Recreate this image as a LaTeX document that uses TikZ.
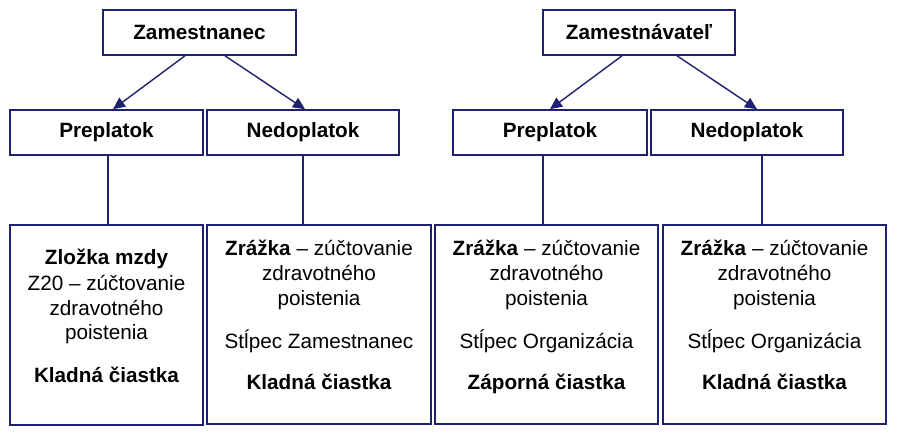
\documentclass[tikz,border=0pt]{standalone}
\usepackage{fontspec}
\setmainfont{Liberation Sans}
\usetikzlibrary{arrows.meta}
\definecolor{navy}{RGB}{30,34,110}
\begin{document}
\begin{tikzpicture}[x=1pt,y=-1pt,
  box/.style={draw=navy,line width=1.6pt,rectangle,inner sep=0pt},
  head/.style={box,minimum height=45pt,text height=15pt,text depth=4.5pt,font=\fontsize{20.7}{25}\selectfont\bfseries},
  tophead/.style={head,text depth=1.5pt},
  body/.style={box,minimum height=199pt},
  txt/.style={anchor=base,inner sep=0pt,font=\fontsize{20.7}{25}\selectfont},
  conn/.style={draw=navy,line width=1.4pt},
  arr/.style={conn,-{Triangle[length=12pt,width=11pt]}}]
\useasboundingbox (0,0) rectangle (897,436);

% top row
\node[tophead,minimum width=193pt] (zl) at (199.5,32.5) {Zamestnanec};
\node[tophead,minimum width=192pt] (zr) at (639,32.5) {Zamestnávateľ};
% second row
\node[head,minimum width=193pt] (pl) at (106.5,132.5) {Preplatok};
\node[head,minimum width=192pt] (nl) at (303,132.5) {Nedoplatok};
\node[head,minimum width=194pt] (pr) at (550,132.5) {Preplatok};
\node[head,minimum width=192pt] (nr) at (747,132.5) {Nedoplatok};
% bottom row
\node[body,minimum width=193pt,minimum height=200pt] (b1) at (106.5,325) {};
\node[body,minimum width=224pt] (b2) at (319,324.5) {};
\node[body,minimum width=223pt] (b3) at (546.5,324.5) {};
\node[body,minimum width=223pt] (b4) at (774.5,324.5) {};

% arrows
\draw[arr] ([xshift=-14.5pt]zl.south) -- ([xshift=6.5pt]pl.north);
\draw[arr] ([xshift=25.5pt]zl.south) -- ([xshift=2pt]nl.north);
\draw[arr] ([xshift=-17pt]zr.south) -- (pr.north);
\draw[arr] ([xshift=38pt]zr.south) -- ([xshift=10pt]nr.north);

% vertical connectors
\draw[conn] ([xshift=1.5pt]pl.south) -- ([xshift=1.5pt]pl.south |- b1.north);
\draw[conn] (nl.south) -- (nl.south |- b2.north);
\draw[conn] ([xshift=-7pt]pr.south) -- ([xshift=-7pt]pr.south |- b3.north);
\draw[conn] ([xshift=15pt]nr.south) -- ([xshift=15pt]nr.south |- b4.north);

% box 1 text
\node[txt] (t1a) at (106.5,264) {\bfseries Zložka mzdy};
\node[txt] (t1b) at (106.5,290) {Z20 – zúčtovanie};
\node[txt] (t1c) at (106.5,315) {zdravotného};
\node[txt] (t1d) at (106.5,339) {poistenia};
\node[txt] (t1e) at (106.5,382) {\bfseries Kladná čiastka};
% box 2 text
\node[txt] (t2a) at (319,255) {\textbf{Zrážka} – zúčtovanie};
\node[txt] (t2b) at (319,280) {zdravotného};
\node[txt] (t2c) at (319,305) {poistenia};
\node[txt] (t2d) at (319,348) {Stĺpec Zamestnanec};
\node[txt] (t2e) at (319,389) {\bfseries Kladná čiastka};
% box 3 text
\node[txt] (t3a) at (546.5,255) {\textbf{Zrážka} – zúčtovanie};
\node[txt] (t3b) at (546.5,280) {zdravotného};
\node[txt] (t3c) at (546.5,305) {poistenia};
\node[txt] (t3d) at (546.5,348) {Stĺpec Organizácia};
\node[txt] (t3e) at (546.5,389) {\bfseries Záporná čiastka};
% box 4 text
\node[txt] (t4a) at (774.5,255) {\textbf{Zrážka} – zúčtovanie};
\node[txt] (t4b) at (774.5,280) {zdravotného};
\node[txt] (t4c) at (774.5,305) {poistenia};
\node[txt] (t4d) at (774.5,348) {Stĺpec Organizácia};
\node[txt] (t4e) at (774.5,389) {\bfseries Kladná čiastka};
\end{tikzpicture}
\end{document}
